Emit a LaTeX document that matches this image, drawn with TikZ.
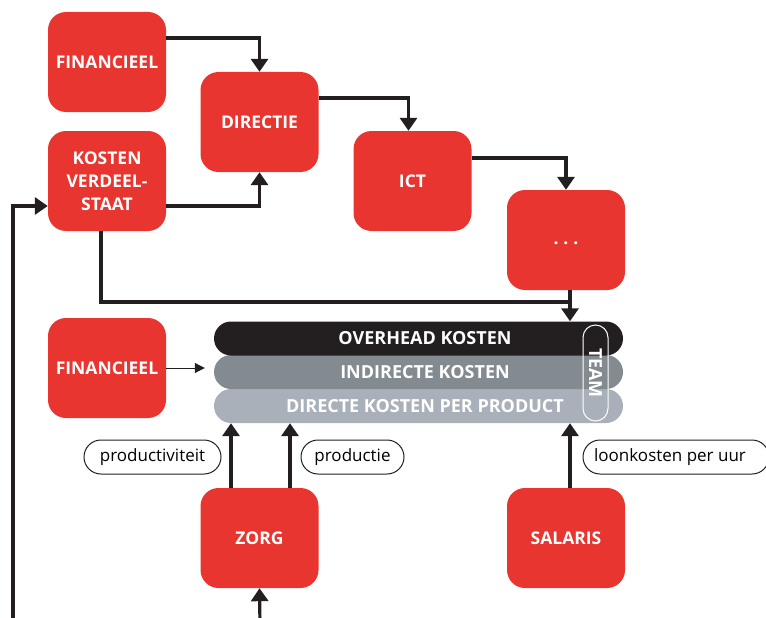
\documentclass[tikz,border=0pt]{standalone}
\usepackage{fontspec}
\setmainfont{Open Sans}
\usetikzlibrary{arrows.meta}
\definecolor{kred}{HTML}{E8352F}
\definecolor{kblack}{HTML}{231F20}
\definecolor{kgray}{HTML}{838B90}
\definecolor{klight}{HTML}{A9B0BA}
\begin{document}
\begin{tikzpicture}[x=1pt,y=-1pt,
    box/.style={rounded corners=18pt,fill=kred,text=white,minimum width=118pt,
      minimum height=100pt,align=center,font=\fontsize{17.5}{23}\selectfont\bfseries},
    bar/.style={rounded corners=17pt,minimum width=409pt,minimum height=34pt,
      inner sep=0pt},
    bartext/.style={text=white,font=\fontsize{18}{20}\selectfont\bfseries},
    pill/.style={draw=kblack,line width=1pt,rounded corners=17pt,minimum height=34pt,
      inner sep=0pt,font=\fontsize{17}{19}\selectfont},
    flow/.style={line width=3.2pt,draw=kblack,-{Triangle[width=17pt,length=13pt]}},
    thin/.style={line width=1pt,draw=kblack,-{Triangle[width=10pt,length=10pt]}}]
  \useasboundingbox (0,0) rectangle (766,618);
  % the cost blocks
  \node[box] (fin1) at (107,62) {FINANCIEEL};
  \node[box] (kvs) at (107,181) {KOSTEN\\VERDEEL-\\STAAT};
  \node[box] (dir) at (259.5,122) {DIRECTIE};
  \node[box] (ict) at (412.5,181) {ICT};
  \node[box] (dots) at (566,240) {\raisebox{-9pt}{.\hspace{5pt}.\hspace{5pt}.}};
  \node[box] (fin2) at (107,368) {FINANCIEEL};
  \node[box] (zorg) at (259.5,538) {ZORG};
  \node[box] (sal) at (566,538) {SALARIS};
  % the stacked bars
  \node[bar,fill=klight] (direct) at (418.5,406) {};
  \node[bar,fill=kgray] (indirect) at (418.5,372) {};
  \node[bar,fill=kblack] (overhead) at (418.5,338.5) {};
  \node[bartext] at (425,338.5) {OVERHEAD KOSTEN};
  \node[bartext] at (425,372) {INDIRECTE KOSTEN};
  \node[bartext] at (425,406) {DIRECTE KOSTEN PER PRODUCT};
  \node[draw=white,line width=1pt,rounded corners=12.5pt,minimum width=25pt,
    minimum height=96pt,inner sep=0pt] (team) at (595.5,373) {};
  \node[bartext,rotate=-90] at (team) {TEAM};
  % the labels
  \node[pill,minimum width=137pt] (prod) at (152.5,457) {productiviteit};
  \node[pill,minimum width=103pt] (prodc) at (352.5,457) {productie};
  \node[pill,minimum width=186pt] (loon) at (676,457) {\hspace*{-12pt}loonkosten per uur};
  \coordinate (back) at (13,625);
  \coordinate (zin) at (260,625);
  \coordinate (join) at (570,302);
  \begin{scope}
    \draw[flow] ([yshift=24pt]fin1.east) -| (dir.north);
    \draw[flow] ([yshift=-25pt]kvs.east) -| (dir.south);
    \draw[flow] ([yshift=24pt]dir.east) -| ([xshift=-4pt]ict.north);
    \draw[flow] ([yshift=23pt]ict.east) -| (dots.north);
    \draw[flow] ([xshift=4pt]dots.south) -- ([xshift=4pt]dots.south |- overhead.north);
    \draw[line width=3.2pt,draw=kblack] ([xshift=-6pt]kvs.south) |- (join);
    \draw[flow] (back) |- ([yshift=-25pt]kvs.west);
    \draw[thin,shorten >=9pt] (fin2.east) -- (fin2.east -| indirect.west);
    \draw[flow] ([xshift=-28.5pt]zorg.north) -- ([xshift=-28.5pt]zorg.north |- direct.south);
    \draw[flow] ([xshift=30.5pt]zorg.north) -- ([xshift=30.5pt]zorg.north |- direct.south);
    \draw[flow] (zin) -- (zorg.south);
    \draw[flow] ([xshift=4pt]sal.north) -- ([xshift=4pt]sal.north |- direct.south);
  \end{scope}
\end{tikzpicture}
\end{document}
